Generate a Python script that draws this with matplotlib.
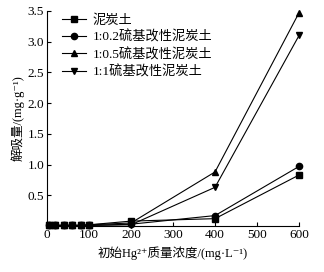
import matplotlib.pyplot as plt

plt.rcParams['font.family'] = ['Liberation Serif', 'Noto Sans CJK SC', 'DejaVu Serif']

# 初始Hg2+质量浓度 (mg/L)
conc = [5, 20, 40, 60, 80, 100, 200, 400, 600]

# 解吸量 (mg/g)
peat = [0.01, 0.01, 0.01, 0.01, 0.01, 0.02, 0.08, 0.12, 0.83]
s02 = [0.01, 0.01, 0.01, 0.01, 0.01, 0.01, 0.03, 0.17, 0.97]
s05 = [0.01, 0.01, 0.01, 0.01, 0.01, 0.02, 0.05, 0.88, 3.47]
s1 = [0.01, 0.01, 0.01, 0.01, 0.01, 0.01, 0.02, 0.63, 3.10]

labels = ['泥炭土', '1:0.2硫基改性泥炭土', '1:0.5硫基改性泥炭土', '1:1硫基改性泥炭土']
markers = ['s', 'o', '^', 'v']

fig = plt.figure(figsize=(3.24, 2.72), dpi=100)
ax = fig.add_axes([0.145, 0.169, 0.778, 0.791])

for ys, lab, m in zip([peat, s02, s05, s1], labels, markers):
    ax.plot(conc, ys, color='black', lw=0.8, marker=m, ms=4.5, label=lab, clip_on=False)

ax.set_xlim(0, 600)
ax.set_ylim(0, 3.5)
ax.set_xticks([0, 100, 200, 300, 400, 500, 600])
ax.set_xticklabels(['0', '100', '200', '300', '400', '500', '600'])
ax.set_yticks([0.5, 1.0, 1.5, 2.0, 2.5, 3.0, 3.5])
ax.set_yticklabels(['0.5', '1.0', '1.5', '2.0', '2.5', '3.0', '3.5'])
ax.tick_params(direction='in', length=3, width=0.8, labelsize=9.5, pad=2)
for s in ['top', 'right']:
    ax.spines[s].set_visible(False)
for s in ['left', 'bottom']:
    ax.spines[s].set_linewidth(0.8)

ax.set_xlabel('初始Hg²⁺质量浓度/(mg·L⁻¹)', fontsize=9, labelpad=4)
ax.set_ylabel('解吸量/(mg·g⁻¹)', fontsize=9, labelpad=2)

ax.legend(loc='upper left', frameon=False, fontsize=9.5, handlelength=1.8,
          handletextpad=0.5, labelspacing=0.3, borderaxespad=0.0,
          bbox_to_anchor=(0.04, 1.01))

fig.savefig('out.png', dpi=100)
